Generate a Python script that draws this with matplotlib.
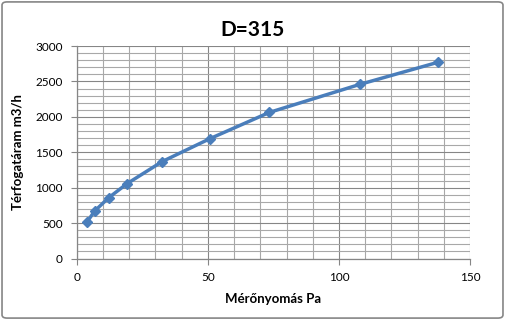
import matplotlib
matplotlib.use("Agg")
import matplotlib.pyplot as plt
from matplotlib.patches import FancyBboxPatch
from matplotlib.ticker import MultipleLocator

# measured points (pressure in Pa, flow in m3/h)
pressure_pa = [3.9, 6.8, 12.2, 19.2, 32.6, 50.9, 73.4, 108.0, 137.7]
flow_m3h = [515, 670, 860, 1058, 1370, 1695, 2063, 2460, 2771]

title = "D=315"
x_label = "Mérőnyomás Pa"
y_label = "Térfogatáram m3/h"

plt.rcParams['font.family'] = ['Lato', 'DejaVu Sans']

fig = plt.figure(figsize=(5.05, 3.2), dpi=100)
ax = fig.add_axes([0.152, 0.192, 0.779, 0.664])

grid_color = '#868686'
ax.plot(pressure_pa, flow_m3h, color='#4a7ebb', linewidth=2.5,
        marker='D', markersize=5.5, markerfacecolor='#4a7ebb',
        markeredgecolor='#4a7ebb', zorder=3, solid_capstyle='round')

ax.set_xlim(0, 150)
ax.set_ylim(0, 3000)
ax.xaxis.set_major_locator(MultipleLocator(50))
ax.xaxis.set_minor_locator(MultipleLocator(10))
ax.yaxis.set_major_locator(MultipleLocator(500))
ax.yaxis.set_minor_locator(MultipleLocator(100))
ax.grid(True, which='major', color=grid_color, linewidth=0.8)
ax.grid(True, which='minor', color='#a8a8a8', linewidth=0.8)
ax.set_axisbelow(True)

for side in ['top', 'right']:
    ax.spines[side].set_visible(False)
for side in ['left', 'bottom']:
    ax.spines[side].set_color(grid_color)
    ax.spines[side].set_linewidth(0.9)

ax.tick_params(which='major', length=4, color=grid_color, labelsize=8.5, pad=6)
ax.tick_params(which='minor', length=0)

ax.set_xlabel(x_label, fontsize=9.5, fontweight='bold', labelpad=7)
ax.set_ylabel(y_label, fontsize=9.5, fontweight='bold', labelpad=8)
fig.text(0.5, 0.905, title, ha='center', va='center', fontsize=15, fontweight='bold')

# rounded chart border
fig.patches.append(FancyBboxPatch((0.004, 0.006), 0.992, 0.988,
                                  boxstyle='round,pad=0,rounding_size=0.01',
                                  transform=fig.transFigure, fill=False,
                                  edgecolor='#868686', linewidth=1.2))

fig.savefig('out.png', dpi=100)
